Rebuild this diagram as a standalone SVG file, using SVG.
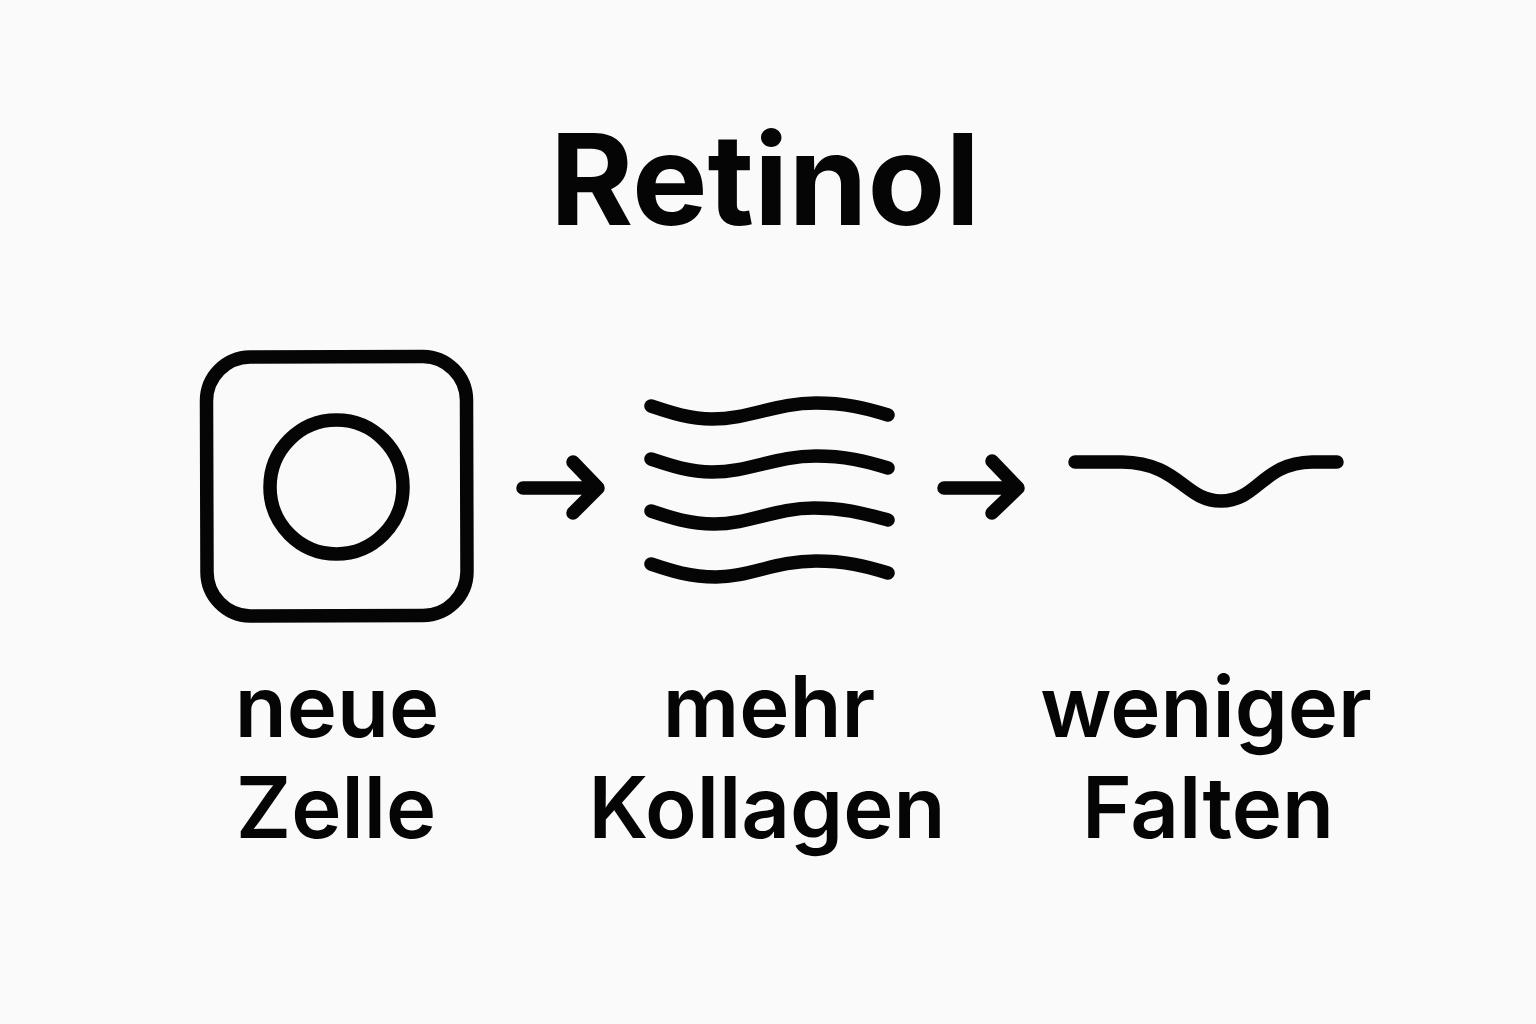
<svg xmlns="http://www.w3.org/2000/svg" width="1536" height="1024" viewBox="0 0 1536 1024">
<style>
.s{fill:none;stroke:#050505;stroke-width:13.500;stroke-linecap:round;stroke-linejoin:round}
.l{font-family:Inter,"Liberation Sans",sans-serif;font-size:85px;font-weight:600;fill:#050505;text-anchor:middle}
</style>
<rect width="1536" height="1024" fill="#fafafa"/>
<text id="title" x="765" y="225" font-family="Inter,'Liberation Sans',sans-serif" font-size="127" font-weight="700" fill="#050505" text-anchor="middle">Retinol</text>
<g id="cell">
<path class="s" d="M250 357L423 356.500A44 44 0 0 1 466.500 400L467 572A44 44 0 0 1 423 615.500L250 616A44 44 0 0 1 207 572L206.500 401A44 44 0 0 1 250 357Z"/>
<ellipse class="s" cx="336.500" cy="487" rx="66.500" ry="67"/>
<text class="l"><tspan x="337" y="737">neue</tspan><tspan x="336" y="838">Zelle</tspan></text>
</g>
<g id="collagen">
<path id="w1" class="s" d="M651 406C672 413 690 419 712 419C750 419 775 403 816 403C845 403 865 408 888 415"/>
<path class="s" d="M651 459C672 466 690 472 712 472C750 472 775 456 816 456C845 456 865 461 888 468"/>
<path class="s" d="M651 511C672 518 690 524 714 524C750 524 775 508 814 508C845 508 865 514 888 520"/>
<path class="s" d="M651 564C672 571 690 577 716 577C750 577 775 561 816 561C845 561 865 566 888 573"/>
<text class="l"><tspan x="769" y="737">mehr</tspan><tspan x="767" y="838">Kollagen</tspan></text>
</g>
<g id="wrinkle">
<path class="s" d="M1075 462H1122C1180 463 1184 501 1221 501C1258 501 1262 463 1312 462H1337"/>
<text class="l"><tspan x="1206" y="737">weniger</tspan><tspan x="1208" y="838">Falten</tspan></text>
</g>
<g id="connectors">
<path class="s" d="M523 488H597M573 462L598 488L573 513"/>
<path class="s" d="M944 488H1017M992 461L1018 488L992 513"/>
</g>
</svg>
